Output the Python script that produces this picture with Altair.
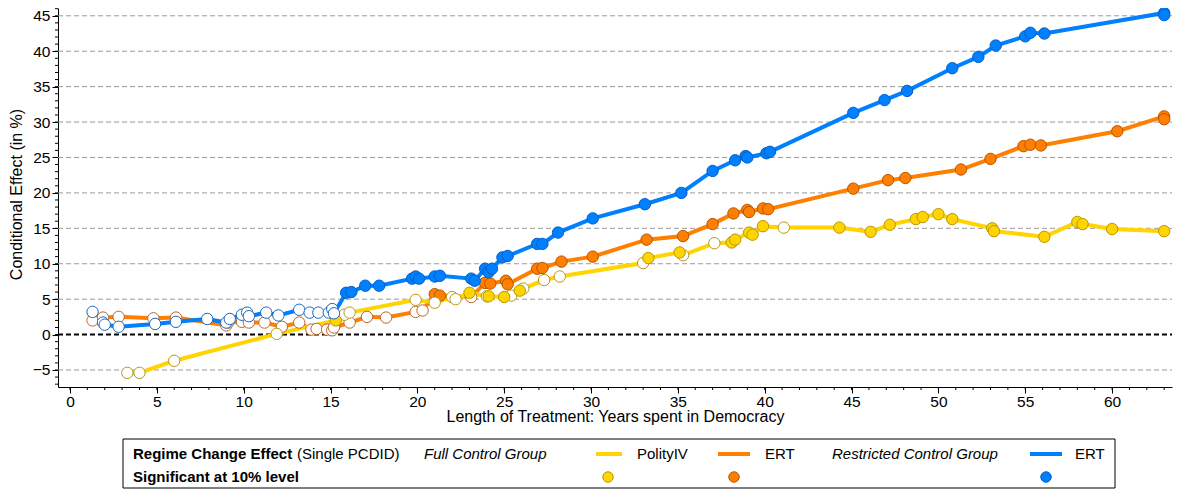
import altair as alt
import pandas as pd

# ---------------- data ----------------
polity_x = [3.3, 4.0, 6.0, 11.9, 15.3, 15.8, 16.1, 19.9, 21.0, 22.0, 22.2, 23.0, 24.0, 24.1, 25.0, 25.4,
            25.9, 26.1, 27.3, 28.2, 33.0, 33.3, 35.1, 35.3, 37.1, 38.1, 38.3, 39.1, 39.3, 39.9, 41.1,
            44.3, 46.1, 47.2, 48.7, 49.1, 50.0, 50.8, 53.1, 53.2, 56.1, 58.0, 58.3, 60.0, 63.0]
polity_y = [-5.4, -5.4, -3.7, 0.1, 2.0, 2.8, 3.1, 4.9, 4.5, 5.3, 5.0, 5.9, 5.4, 5.4, 5.3, 5.5,
            6.2, 6.5, 7.7, 8.2, 10.1, 10.8, 11.6, 11.2, 12.9, 13.0, 13.4, 14.4, 14.1, 15.3, 15.1,
            15.1, 14.5, 15.5, 16.3, 16.6, 17.0, 16.3, 15.0, 14.6, 13.8, 15.9, 15.6, 14.9, 14.6]
polity_sig = [0, 0, 0, 0, 1, 0, 0, 0, 0, 0, 0, 1, 0, 1, 1, 0,
              1, 0, 0, 0, 0, 1, 1, 0, 0, 1, 1, 1, 1, 1, 0,
              1, 1, 1, 1, 1, 1, 1, 1, 1, 1, 1, 1, 1, 1]

ertfull_x = [1.3, 1.9, 2.8, 4.8, 6.1, 9.0, 9.1, 9.9, 10.3, 11.2, 12.2, 13.2, 13.9, 14.2, 14.8, 15.1,
             15.2, 16.1, 17.1, 18.2, 19.9, 20.3, 21.0, 21.3, 23.1, 23.9, 24.2, 25.1, 25.2, 26.9, 27.2,
             28.3, 30.1, 33.2, 35.3, 37.0, 38.2, 39.0, 39.1, 39.9, 40.2, 45.1, 47.1, 48.1, 51.3, 53.0,
             54.9, 55.3, 55.9, 60.3, 63.0, 63.0]
ertfull_y = [2.0, 2.4, 2.5, 2.3, 2.4, 1.3, 1.7, 1.8, 1.7, 1.7, 1.1, 1.7, 0.7, 0.8, 0.7, 0.6,
             1.0, 1.7, 2.5, 2.4, 3.2, 3.4, 5.7, 5.5, 5.3, 7.3, 7.2, 7.6, 7.1, 9.3, 9.4,
             10.3, 11.0, 13.4, 13.9, 15.6, 17.1, 17.6, 17.3, 17.8, 17.7, 20.6, 21.8, 22.1, 23.3, 24.8,
             26.6, 26.8, 26.7, 28.7, 30.8, 30.4]
ertfull_sig = [0] * 22 + [1, 1, 0] + [1] * 27

ertres_x = [1.3, 1.9, 2.0, 2.8, 4.9, 6.1, 7.9, 9.0, 9.2, 9.9, 10.2, 10.3, 11.3, 12.0, 13.2, 13.8,
            14.3, 14.9, 15.1, 15.2, 15.9, 16.2, 17.0, 17.8, 19.7, 19.9, 20.1, 21.0, 21.3, 23.1, 23.3,
            23.9, 24.1, 24.3, 24.9, 25.2, 26.9, 27.2, 28.1, 30.1, 33.1, 35.2, 37.0, 38.3, 38.9, 39.0,
            40.1, 40.3, 45.1, 46.9, 48.2, 50.8, 52.3, 53.3, 55.0, 55.3, 56.1, 63.0, 63.0]
ertres_y = [3.2, 1.7, 1.4, 1.1, 1.5, 1.8, 2.2, 1.7, 2.2, 2.8, 3.1, 2.6, 3.1, 2.7, 3.5, 3.1,
            3.1, 3.1, 3.6, 3.0, 5.9, 6.0, 6.9, 6.9, 7.9, 8.2, 7.9, 8.2, 8.3, 7.9, 7.6,
            9.3, 8.8, 9.3, 10.9, 11.1, 12.8, 12.8, 14.4, 16.4, 18.4, 20.0, 23.1, 24.6, 25.2, 25.0,
            25.6, 25.8, 31.3, 33.1, 34.4, 37.6, 39.2, 40.8, 42.1, 42.6, 42.5, 45.4, 45.1]
ertres_sig = [0] * 20 + [1] * 39

x_major = [0, 5, 10, 15, 20, 25, 30, 35, 40, 45, 50, 55, 60]
x_minor = list(range(0, 64))
y_major = [-5, 0, 5, 10, 15, 20, 25, 30, 35, 40, 45]
y_minor = list(range(-7, 47))
y_grid = [-5, 5, 10, 15, 20, 25, 30, 35, 40, 45]

# ---------------- layout / style ----------------
W, H = 1114, 379
FONT = "Liberation Sans"
xs = alt.Scale(domain=[-0.69, 63.45], nice=False, zero=False)
ys = alt.Scale(domain=[-7.4, 46.1], nice=False, zero=False)

X_AX = alt.Axis(values=x_major, grid=False, tickSize=6, labelPadding=1, format="d",
                title="Length of Treatment: Years spent in Democracy",
                titleX=W / 2, titleY=29, titleAlign="center", titleBaseline="middle")
Y_AX = alt.Axis(values=y_major, grid=False, tickSize=6, labelPadding=2, format="d",
                title="Conditional Effect (in %)",
                titleX=-42, titleY=186, titleAlign="center", titleBaseline="middle", titleAngle=-90)


def df_of(xv, yv, sv):
    return pd.DataFrame({"x": xv, "y": yv, "sig": sv})


def xenc():
    return alt.X("x:Q", scale=xs, axis=X_AX)


def yenc():
    return alt.Y("y:Q", scale=ys, axis=Y_AX)


one = pd.DataFrame({"k": [0]})

# grid lines
grid = alt.Chart(pd.DataFrame({"y": y_grid})).mark_rule(
    color="#9a9a9a", strokeWidth=1, strokeDash=[5, 3]
).encode(y=yenc(), x=alt.value(0), x2=alt.value(W))
zero = alt.Chart(pd.DataFrame({"y": [0]})).mark_rule(
    color="black", strokeWidth=2, strokeDash=[5, 3]
).encode(y=yenc(), x=alt.value(0), x2=alt.value(W))

# minor ticks
xmin_t = alt.Chart(pd.DataFrame({"x": x_minor})).mark_rule(color="black", strokeWidth=1).encode(
    x=xenc(), y=alt.value(H), y2=alt.value(H + 3))
ymin_t = alt.Chart(pd.DataFrame({"y": y_minor})).mark_rule(color="black", strokeWidth=1).encode(
    y=yenc(), x=alt.value(0), x2=alt.value(-3))

series = [
    (df_of(ertfull_x, ertfull_y, ertfull_sig), "#FF7F00", "#FF7F00", "#B85500", "#C0652A"),
    (df_of(polity_x, polity_y, polity_sig), "#FFD400", "#FFD400", "#B89800", "#B8980F"),
    (df_of(ertres_x, ertres_y, ertres_sig), "#0080FF", "#0080FF", "#0060C8", "#1A68C0"),
]

lines = []
pts = []
for d, lc, fc, sc, oc in series:
    lines.append(alt.Chart(d).mark_line(color=lc, strokeWidth=4).encode(x=xenc(), y=yenc()))
    pts.append(alt.Chart(d).transform_filter("datum.sig == 0").mark_point(
        shape="circle", filled=True, fill="white", stroke=oc, strokeWidth=1, opacity=1, size=130
    ).encode(x=xenc(), y=yenc()))
    pts.append(alt.Chart(d).transform_filter("datum.sig == 1").mark_point(
        shape="circle", filled=True, fill=fc, stroke=sc, strokeWidth=1, opacity=1, size=130
    ).encode(x=xenc(), y=yenc()))

# ---------------- legend box ----------------
LY1, LY2 = 446, 469
LFS = 15
box = alt.Chart(one).mark_rect(fill="white", stroke="black", strokeWidth=1).encode(
    x=alt.value(65), x2=alt.value(1057), y=alt.value(431), y2=alt.value(480))


def txt(s, x, y, weight="normal", style="normal"):
    return alt.Chart(one).mark_text(
        text=s, align="left", baseline="middle", font=FONT, fontSize=LFS,
        fontWeight=weight, fontStyle=style, color="black"
    ).encode(x=alt.value(x), y=alt.value(y))


def lsym(x1, x2, y, c):
    return alt.Chart(one).mark_rule(color=c, strokeWidth=4).encode(
        x=alt.value(x1), x2=alt.value(x2), y=alt.value(y))


def csym(x, y, f, s):
    return alt.Chart(one).mark_point(shape="circle", filled=True, fill=f, stroke=s,
                                     strokeWidth=1, opacity=1, size=110).encode(
        x=alt.value(x), y=alt.value(y))


legend = [
    box,
    txt("Regime Change Effect", 75, LY1, weight="bold"),
    txt("(Single PCDID)", 239, LY1),
    txt("Full Control Group", 366, LY1, style="italic"),
    lsym(538, 564, LY1, "#FFD400"),
    txt("PolityIV", 579, LY1),
    lsym(660, 692, LY1, "#FF7F00"),
    txt("ERT", 707, LY1),
    txt("Restricted Control Group", 774, LY1, style="italic"),
    lsym(972, 1004, LY1, "#0080FF"),
    txt("ERT", 1017, LY1),
    txt("Significant at 10% level", 75, LY2, weight="bold"),
    csym(550, LY2, "#FFD400", "#B89800"),
    csym(676, LY2, "#FF7F00", "#B85500"),
    csym(988, LY2, "#0080FF", "#0060C8"),
]

chart = alt.layer(grid, zero, xmin_t, ymin_t, *lines, *pts, *legend).properties(
    width=W, height=H,
    autosize=alt.AutoSizeParams(type="none"),
    padding={"left": 50, "top": 0, "right": 2, "bottom": 102},
).configure_view(stroke=None).configure_axis(
    labelFont=FONT, labelFontSize=15.5, labelColor="black",
    titleFont=FONT, titleFontSize=16, titleFontWeight="normal", titleColor="black",
    domainColor="black", tickColor="black", domainWidth=1, tickWidth=1,
)

chart.save("out.html", embed_options={"renderer": "svg", "actions": False})
